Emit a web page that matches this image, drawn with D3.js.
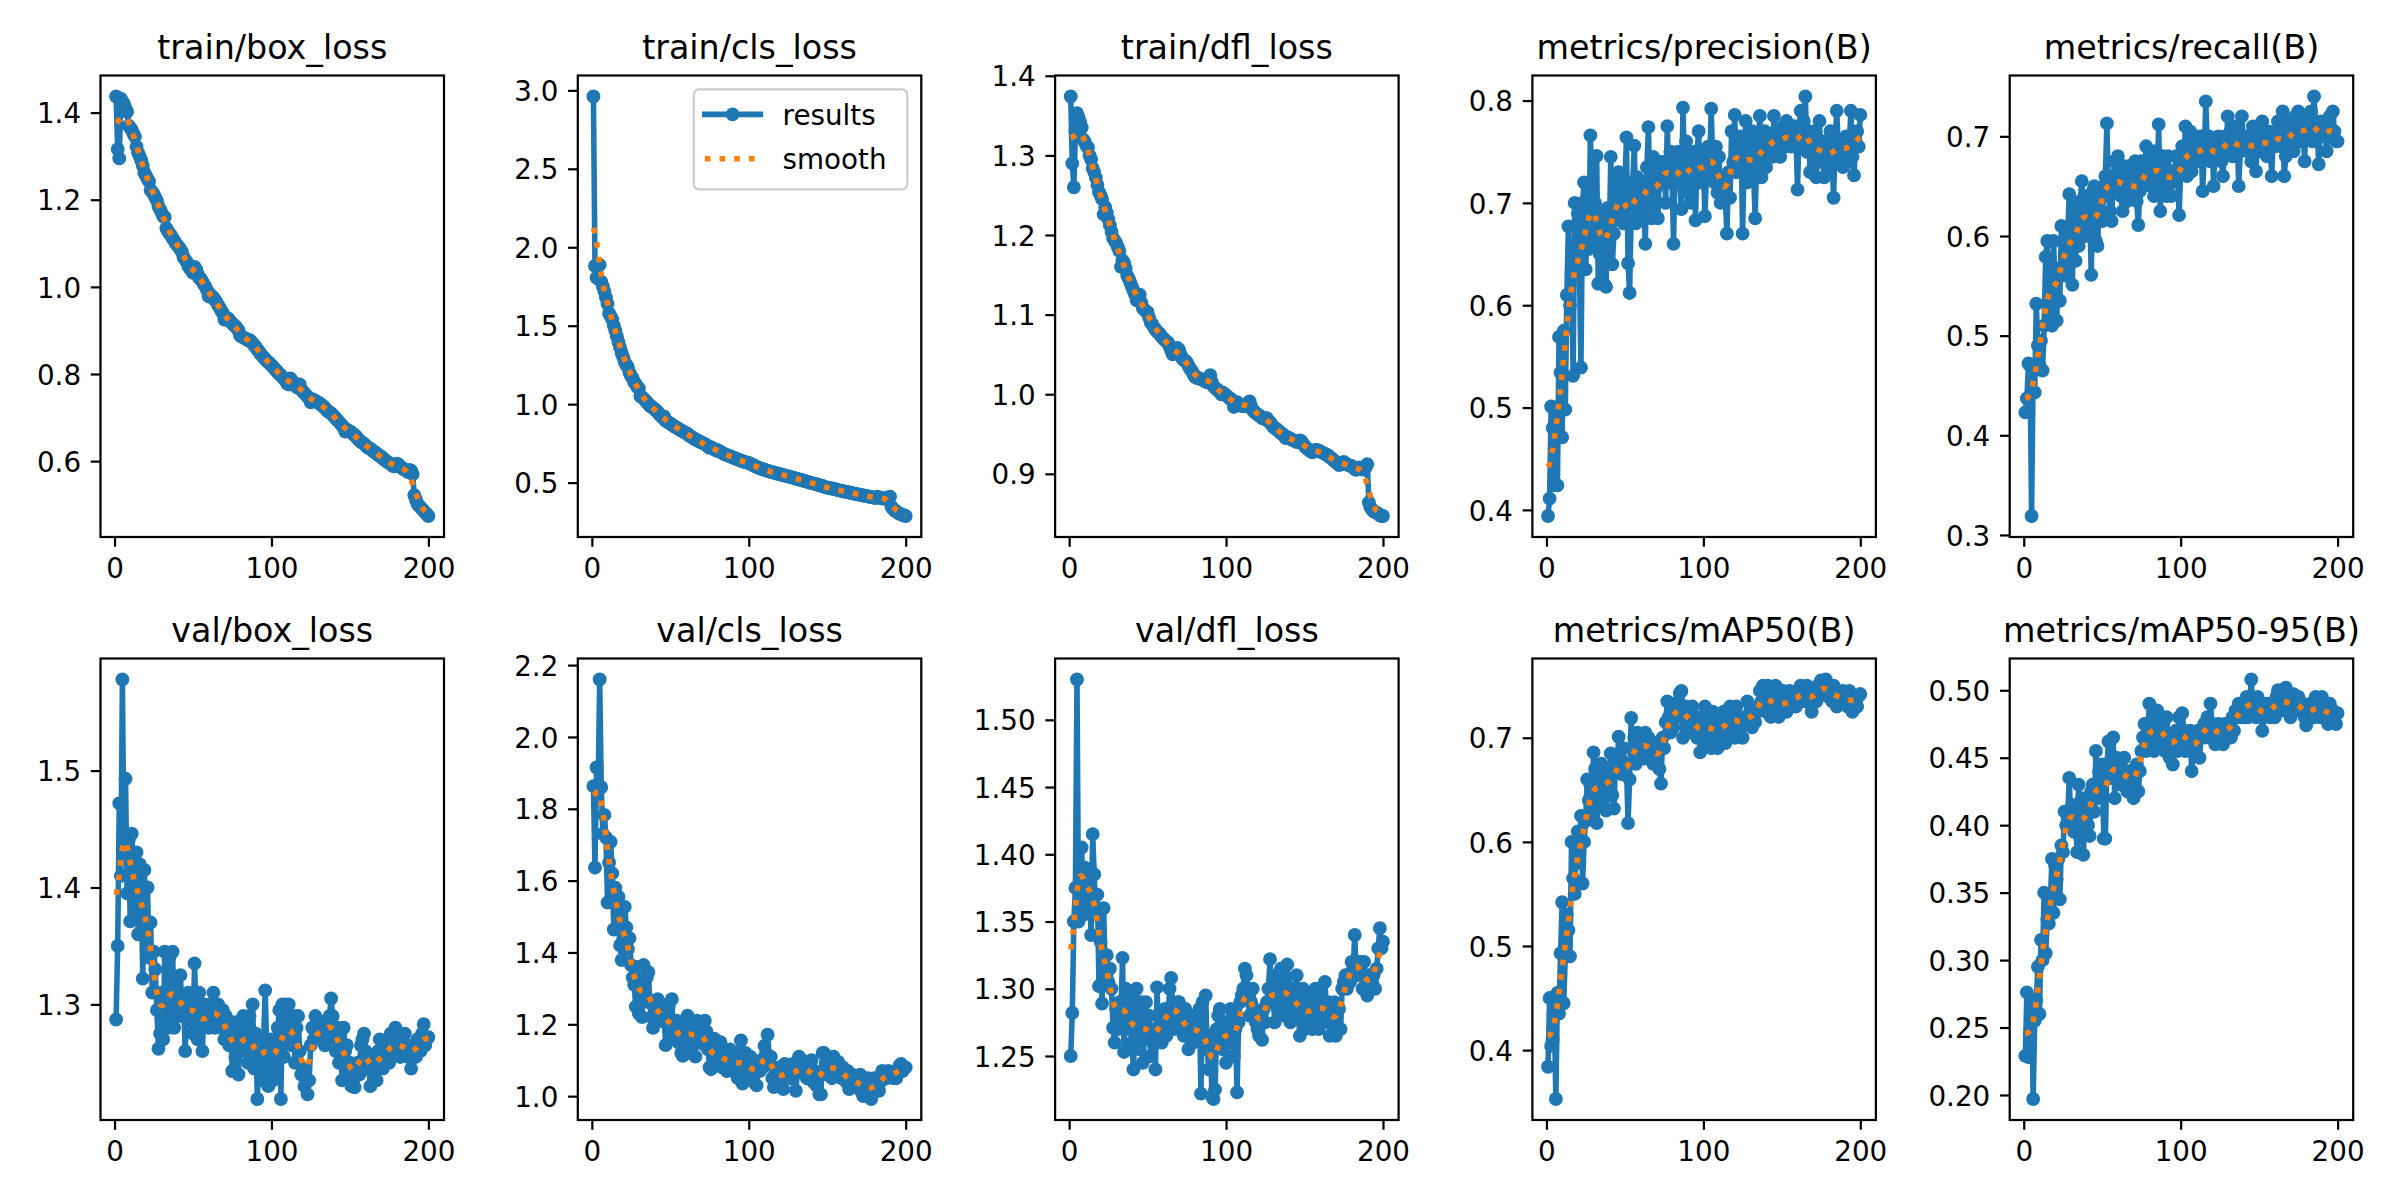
<!DOCTYPE html>
<html>
<head>
<meta charset="utf-8">
<script src="https://cdn.jsdelivr.net/npm/d3@7"></script>
<style>
html,body{margin:0;padding:0;background:#fff;}
svg{display:block;}
text{font-family:"DejaVu Sans",sans-serif;fill:#000;}
</style>
</head>
<body>
<script>
// ---------------- data ----------------
const titles = ["train/box_loss","train/cls_loss","train/dfl_loss","metrics/precision(B)","metrics/recall(B)",
                "val/box_loss","val/cls_loss","val/dfl_loss","metrics/mAP50(B)","metrics/mAP50-95(B)"];
const legendLabels = ["results","smooth"];
const xTicks = [0,100,200];

const trainBoxLoss = [
1.437,1.316,1.295,1.432,1.425,1.420,1.410,1.402,1.370,1.365,
1.360,1.352,1.345,1.322,1.308,1.300,1.290,1.278,1.262,1.255,
1.248,1.242,1.222,1.218,1.212,1.205,1.198,1.185,1.178,1.170,
1.162,1.160,1.135,1.128,1.122,1.118,1.112,1.106,1.100,1.096,
1.091,1.086,1.080,1.068,1.062,1.058,1.048,1.042,1.040,1.032,
1.046,1.040,1.030,1.020,1.018,1.012,1.005,1.000,0.992,0.978,
0.982,0.978,0.975,0.970,0.965,0.958,0.952,0.945,0.940,0.925,
0.930,0.928,0.925,0.920,0.916,0.912,0.910,0.905,0.900,0.888,
0.886,0.884,0.882,0.880,0.878,0.878,0.875,0.870,0.866,0.862,
0.856,0.852,0.846,0.842,0.838,0.834,0.830,0.827,0.824,0.820,
0.816,0.812,0.808,0.804,0.800,0.797,0.793,0.789,0.785,0.778,
0.776,0.790,0.785,0.780,0.775,0.770,0.768,0.776,0.764,0.760,
0.756,0.752,0.748,0.744,0.735,0.742,0.740,0.738,0.736,0.734,
0.732,0.728,0.726,0.722,0.718,0.714,0.712,0.710,0.706,0.702,
0.698,0.694,0.690,0.686,0.682,0.678,0.668,0.672,0.670,0.668,
0.666,0.662,0.660,0.656,0.652,0.648,0.644,0.642,0.640,0.636,
0.632,0.630,0.628,0.626,0.622,0.620,0.618,0.614,0.612,0.610,
0.606,0.604,0.600,0.598,0.596,0.594,0.590,0.588,0.590,0.594,
0.592,0.588,0.585,0.582,0.580,0.578,0.575,0.580,0.578,0.570,
0.522,0.512,0.502,0.498,0.494,0.490,0.486,0.482,0.478,0.474];

const trainClsLoss = [
2.961,1.881,1.807,1.800,1.888,1.780,1.750,1.720,1.680,1.640,
1.578,1.560,1.540,1.500,1.468,1.430,1.394,1.360,1.326,1.300,
1.268,1.250,1.235,1.200,1.180,1.165,1.140,1.128,1.110,1.100,
1.050,1.045,1.035,1.025,1.015,1.000,0.990,0.985,0.975,0.970,
0.958,0.950,0.935,0.925,0.915,0.922,0.894,0.890,0.882,0.876,
0.870,0.862,0.855,0.850,0.844,0.838,0.832,0.826,0.820,0.815,
0.810,0.800,0.795,0.788,0.780,0.775,0.770,0.765,0.760,0.755,
0.750,0.745,0.740,0.730,0.722,0.725,0.720,0.712,0.705,0.708,
0.702,0.695,0.690,0.685,0.680,0.676,0.672,0.668,0.664,0.660,
0.656,0.652,0.648,0.644,0.640,0.636,0.632,0.630,0.627,0.625,
0.620,0.615,0.610,0.604,0.600,0.596,0.592,0.588,0.585,0.582,
0.578,0.575,0.572,0.568,0.566,0.564,0.560,0.558,0.556,0.553,
0.550,0.548,0.545,0.542,0.540,0.537,0.535,0.532,0.528,0.526,
0.523,0.520,0.518,0.515,0.512,0.509,0.506,0.503,0.500,0.497,
0.495,0.492,0.490,0.486,0.484,0.480,0.478,0.474,0.470,0.468,
0.466,0.464,0.462,0.460,0.458,0.455,0.452,0.450,0.447,0.445,
0.443,0.441,0.439,0.437,0.435,0.433,0.430,0.428,0.426,0.424,
0.422,0.420,0.418,0.416,0.414,0.412,0.410,0.408,0.406,0.404,
0.402,0.410,0.405,0.403,0.400,0.398,0.396,0.404,0.402,0.410,
0.345,0.332,0.322,0.315,0.308,0.302,0.298,0.294,0.290,0.287];

const trainDflLoss = [
1.374,1.290,1.260,1.330,1.353,1.348,1.342,1.335,1.320,1.317,
1.312,1.310,1.300,1.295,1.284,1.279,1.272,1.263,1.254,1.250,
1.245,1.226,1.235,1.228,1.220,1.212,1.204,1.196,1.193,1.190,
1.185,1.180,1.160,1.168,1.165,1.158,1.149,1.145,1.140,1.135,
1.130,1.125,1.118,1.122,1.125,1.115,1.108,1.106,1.104,1.103,
1.096,1.090,1.088,1.084,1.081,1.079,1.077,1.075,1.072,1.070,
1.068,1.066,1.065,1.060,1.055,1.050,1.052,1.055,1.058,1.056,
1.050,1.045,1.043,1.042,1.040,1.036,1.032,1.030,1.026,1.022,
1.021,1.020,1.020,1.019,1.018,1.017,1.016,1.015,1.020,1.024,
1.015,1.010,1.008,1.006,1.005,1.003,1.000,1.002,1.000,0.999,
0.997,0.995,0.994,0.992,0.984,0.990,0.990,0.988,0.986,0.985,
0.985,0.985,0.987,0.989,0.991,0.985,0.980,0.978,0.976,0.975,
0.973,0.972,0.970,0.969,0.970,0.970,0.966,0.965,0.962,0.959,
0.958,0.956,0.955,0.953,0.951,0.950,0.948,0.945,0.946,0.945,
0.944,0.943,0.942,0.941,0.940,0.941,0.942,0.941,0.938,0.935,
0.933,0.931,0.930,0.928,0.927,0.929,0.930,0.930,0.929,0.928,
0.927,0.926,0.925,0.924,0.923,0.921,0.920,0.918,0.916,0.915,
0.913,0.911,0.912,0.914,0.915,0.913,0.912,0.911,0.910,0.910,
0.908,0.906,0.905,0.907,0.908,0.907,0.906,0.905,0.908,0.912,
0.864,0.858,0.855,0.853,0.852,0.851,0.850,0.848,0.847,0.847];

const precisionB = [
0.394,0.411,0.501,0.480,0.424,0.500,0.424,0.569,0.534,0.471,
0.575,0.498,0.610,0.677,0.600,0.630,0.531,0.700,0.660,0.690,
0.635,0.539,0.700,0.720,0.635,0.680,0.655,0.766,0.716,0.660,
0.700,0.746,0.621,0.650,0.670,0.690,0.620,0.618,0.695,0.660,
0.745,0.640,0.670,0.720,0.690,0.730,0.685,0.725,0.680,0.720,
0.764,0.641,0.612,0.690,0.720,0.756,0.680,0.725,0.700,0.690,
0.720,0.700,0.660,0.735,0.774,0.700,0.685,0.745,0.700,0.715,
0.685,0.730,0.740,0.720,0.740,0.700,0.775,0.720,0.750,0.730,
0.660,0.740,0.730,0.750,0.720,0.694,0.793,0.730,0.760,0.710,
0.745,0.700,0.725,0.750,0.683,0.750,0.770,0.720,0.750,0.740,
0.687,0.730,0.755,0.740,0.792,0.735,0.720,0.755,0.710,0.745,
0.700,0.715,0.720,0.705,0.670,0.730,0.705,0.770,0.740,0.786,
0.730,0.755,0.740,0.765,0.670,0.745,0.780,0.720,0.760,0.740,
0.770,0.730,0.685,0.745,0.760,0.785,0.725,0.750,0.770,0.735,
0.765,0.750,0.760,0.745,0.785,0.770,0.750,0.765,0.745,0.760,
0.775,0.755,0.780,0.760,0.770,0.755,0.760,0.775,0.765,0.713,
0.770,0.790,0.755,0.780,0.804,0.750,0.770,0.730,0.760,0.745,
0.770,0.725,0.755,0.780,0.740,0.760,0.725,0.750,0.760,0.735,
0.770,0.745,0.705,0.760,0.790,0.755,0.745,0.760,0.735,0.750,
0.765,0.740,0.755,0.790,0.745,0.727,0.760,0.770,0.755,0.786];

const recallB = [
0.423,0.437,0.472,0.470,0.319,0.465,0.443,0.532,0.490,0.470,
0.495,0.465,0.510,0.579,0.595,0.520,0.550,0.510,0.595,0.545,
0.515,0.560,0.535,0.610,0.570,0.595,0.560,0.600,0.642,0.585,
0.551,0.630,0.575,0.600,0.590,0.635,0.655,0.620,0.600,0.640,
0.610,0.630,0.561,0.645,0.650,0.595,0.590,0.625,0.640,0.615,
0.650,0.660,0.713,0.640,0.625,0.615,0.660,0.675,0.650,0.680,
0.660,0.640,0.625,0.670,0.655,0.635,0.670,0.645,0.640,0.660,
0.675,0.635,0.611,0.645,0.675,0.655,0.660,0.690,0.655,0.665,
0.650,0.680,0.640,0.685,0.655,0.712,0.625,0.665,0.680,0.650,
0.640,0.680,0.660,0.640,0.665,0.655,0.680,0.660,0.621,0.665,
0.690,0.670,0.710,0.660,0.680,0.705,0.665,0.690,0.675,0.700,
0.690,0.675,0.700,0.645,0.680,0.735,0.690,0.700,0.675,0.695,
0.650,0.695,0.680,0.700,0.690,0.675,0.660,0.700,0.690,0.720,
0.690,0.705,0.680,0.710,0.695,0.700,0.650,0.685,0.720,0.690,
0.695,0.700,0.685,0.690,0.675,0.710,0.695,0.665,0.700,0.685,
0.690,0.715,0.690,0.700,0.680,0.705,0.695,0.660,0.700,0.690,
0.705,0.715,0.700,0.690,0.725,0.660,0.680,0.710,0.695,0.715,
0.700,0.685,0.720,0.705,0.725,0.695,0.715,0.705,0.675,0.720,
0.705,0.710,0.725,0.695,0.740,0.710,0.705,0.672,0.715,0.700,
0.705,0.710,0.685,0.705,0.720,0.700,0.725,0.705,0.695,0.695];

const valBoxLoss = [
1.287,1.350,1.472,1.410,1.578,1.430,1.493,1.395,1.440,1.371,
1.446,1.410,1.380,1.430,1.360,1.420,1.400,1.322,1.415,1.370,
1.400,1.340,1.370,1.310,1.345,1.330,1.295,1.262,1.275,1.310,
1.270,1.345,1.290,1.280,1.340,1.300,1.345,1.280,1.320,1.290,
1.310,1.325,1.290,1.305,1.260,1.300,1.310,1.285,1.300,1.275,
1.335,1.290,1.270,1.310,1.280,1.260,1.300,1.285,1.295,1.280,
1.300,1.290,1.310,1.280,1.290,1.300,1.295,1.280,1.295,1.270,
1.290,1.280,1.265,1.285,1.243,1.270,1.255,1.285,1.240,1.275,
1.260,1.290,1.275,1.265,1.250,1.290,1.265,1.300,1.245,1.275,
1.219,1.260,1.250,1.235,1.270,1.312,1.260,1.230,1.250,1.270,
1.235,1.260,1.240,1.280,1.295,1.219,1.300,1.255,1.300,1.270,
1.300,1.280,1.265,1.290,1.250,1.280,1.290,1.260,1.240,1.245,
1.230,1.235,1.223,1.235,1.265,1.280,1.270,1.290,1.275,1.280,
1.270,1.285,1.275,1.265,1.280,1.270,1.290,1.305,1.290,1.275,
1.260,1.280,1.250,1.275,1.235,1.280,1.260,1.265,1.240,1.250,
1.230,1.235,1.229,1.245,1.250,1.240,1.265,1.270,1.275,1.260,
1.245,1.250,1.230,1.255,1.240,1.250,1.235,1.260,1.270,1.255,
1.245,1.260,1.255,1.265,1.250,1.275,1.260,1.270,1.280,1.265,
1.260,1.255,1.270,1.260,1.275,1.265,1.255,1.260,1.245,1.265,
1.260,1.255,1.270,1.265,1.260,1.275,1.283,1.265,1.270,1.272];

const valClsLoss = [
1.863,1.636,1.915,1.850,2.160,1.860,1.730,1.783,1.720,1.539,
1.650,1.708,1.620,1.464,1.580,1.530,1.555,1.420,1.379,1.440,
1.527,1.470,1.410,1.440,1.365,1.330,1.310,1.249,1.360,1.230,
1.300,1.220,1.365,1.280,1.330,1.345,1.260,1.220,1.190,1.265,
1.230,1.270,1.240,1.210,1.255,1.230,1.142,1.200,1.250,1.170,
1.270,1.160,1.195,1.210,1.150,1.180,1.120,1.112,1.210,1.160,
1.224,1.190,1.130,1.170,1.200,1.110,1.210,1.160,1.190,1.170,
1.145,1.210,1.180,1.130,1.080,1.075,1.120,1.160,1.100,1.130,
1.090,1.150,1.080,1.120,1.090,1.070,1.110,1.130,1.095,1.070,
1.100,1.120,1.050,1.090,1.155,1.035,1.100,1.120,1.075,1.060,
1.110,1.090,1.040,1.080,1.030,1.075,1.070,1.100,1.080,1.140,
1.120,1.171,1.100,1.110,1.050,1.025,1.070,1.050,1.080,1.035,
1.060,1.020,1.090,1.070,1.060,1.080,1.050,1.090,1.060,1.015,
1.070,1.110,1.080,1.100,1.065,1.090,1.050,1.080,1.060,1.100,
1.040,1.070,1.030,1.050,1.005,1.005,1.120,1.120,1.090,1.060,
1.100,1.070,1.050,1.110,1.080,1.060,1.095,1.070,1.050,1.080,
1.060,1.040,1.070,1.020,1.050,1.060,1.030,1.050,1.040,1.030,
1.060,1.010,1.000,1.040,1.020,1.050,1.000,0.992,1.030,1.050,
1.020,1.030,1.015,1.040,1.070,1.055,1.060,1.050,1.070,1.055,
1.060,1.050,1.065,1.050,1.070,1.085,1.090,1.070,1.080,1.080];

const valDflLoss = [
1.250,1.282,1.350,1.375,1.530,1.350,1.385,1.405,1.355,1.390,
1.360,1.385,1.370,1.340,1.415,1.385,1.355,1.370,1.302,1.335,
1.289,1.360,1.310,1.325,1.305,1.315,1.300,1.271,1.260,1.285,
1.270,1.290,1.280,1.323,1.253,1.300,1.285,1.270,1.295,1.260,
1.240,1.280,1.300,1.265,1.255,1.290,1.245,1.275,1.290,1.265,
1.280,1.250,1.260,1.270,1.240,1.301,1.265,1.280,1.260,1.270,
1.285,1.265,1.275,1.300,1.308,1.285,1.270,1.280,1.290,1.290,
1.280,1.275,1.265,1.285,1.265,1.255,1.280,1.270,1.260,1.275,
1.280,1.265,1.285,1.222,1.290,1.265,1.295,1.255,1.240,1.265,
1.220,1.218,1.225,1.270,1.280,1.285,1.260,1.255,1.270,1.245,
1.275,1.260,1.285,1.280,1.250,1.270,1.223,1.275,1.290,1.295,
1.300,1.315,1.310,1.295,1.280,1.290,1.300,1.285,1.275,1.270,
1.265,1.280,1.262,1.285,1.275,1.290,1.300,1.322,1.290,1.300,
1.275,1.310,1.285,1.295,1.315,1.290,1.280,1.305,1.318,1.300,
1.275,1.290,1.300,1.285,1.310,1.280,1.265,1.290,1.300,1.270,
1.285,1.275,1.295,1.280,1.270,1.290,1.300,1.285,1.270,1.300,
1.280,1.275,1.305,1.285,1.290,1.265,1.275,1.280,1.290,1.265,
1.270,1.285,1.270,1.300,1.305,1.310,1.300,1.310,1.305,1.320,
1.315,1.340,1.310,1.320,1.315,1.320,1.300,1.320,1.300,1.295,
1.310,1.300,1.305,1.310,1.300,1.315,1.330,1.345,1.330,1.335];

const mAP50B = [
0.384,0.450,0.404,0.410,0.440,0.353,0.455,0.435,0.493,0.542,
0.445,0.490,0.530,0.515,0.490,0.600,0.565,0.550,0.595,0.610,
0.580,0.625,0.560,0.600,0.620,0.660,0.640,0.655,0.625,0.686,
0.670,0.618,0.645,0.660,0.675,0.640,0.665,0.630,0.670,0.655,
0.685,0.645,0.632,0.675,0.670,0.701,0.680,0.665,0.690,0.665,
0.675,0.618,0.660,0.719,0.690,0.700,0.675,0.705,0.685,0.700,
0.690,0.680,0.705,0.695,0.700,0.685,0.690,0.675,0.695,0.680,
0.690,0.670,0.656,0.700,0.690,0.715,0.735,0.720,0.705,0.725,
0.710,0.730,0.720,0.735,0.743,0.745,0.700,0.720,0.730,0.705,
0.725,0.715,0.730,0.705,0.720,0.700,0.710,0.686,0.720,0.705,
0.730,0.695,0.715,0.720,0.690,0.725,0.700,0.715,0.690,0.705,
0.720,0.700,0.725,0.695,0.710,0.720,0.730,0.715,0.725,0.700,
0.730,0.715,0.720,0.710,0.700,0.715,0.720,0.735,0.715,0.725,
0.710,0.720,0.715,0.725,0.730,0.745,0.735,0.750,0.740,0.725,
0.750,0.735,0.720,0.745,0.725,0.750,0.730,0.720,0.735,0.725,
0.745,0.730,0.725,0.735,0.745,0.730,0.735,0.740,0.730,0.745,
0.735,0.750,0.740,0.745,0.735,0.750,0.740,0.735,0.725,0.745,
0.740,0.735,0.750,0.745,0.755,0.745,0.750,0.756,0.740,0.750,
0.745,0.735,0.750,0.740,0.730,0.745,0.735,0.740,0.745,0.735,
0.740,0.730,0.745,0.735,0.725,0.740,0.735,0.730,0.740,0.742];

const mAP5095B = [
0.229,0.276,0.228,0.245,0.270,0.197,0.255,0.270,0.295,0.260,
0.315,0.300,0.350,0.305,0.330,0.327,0.345,0.375,0.335,0.370,
0.360,0.375,0.345,0.385,0.380,0.410,0.400,0.405,0.435,0.400,
0.415,0.395,0.410,0.380,0.430,0.390,0.420,0.378,0.410,0.420,
0.400,0.392,0.425,0.430,0.410,0.455,0.420,0.440,0.425,0.445,
0.390,0.390,0.445,0.462,0.435,0.440,0.465,0.420,0.450,0.440,
0.445,0.430,0.440,0.450,0.435,0.425,0.440,0.435,0.430,0.420,
0.435,0.445,0.425,0.440,0.455,0.465,0.475,0.455,0.460,0.490,
0.465,0.480,0.455,0.470,0.485,0.460,0.480,0.465,0.475,0.455,
0.480,0.460,0.450,0.465,0.445,0.460,0.470,0.455,0.480,0.465,
0.483,0.470,0.455,0.465,0.460,0.470,0.440,0.455,0.465,0.460,
0.470,0.450,0.465,0.470,0.475,0.465,0.480,0.470,0.490,0.475,
0.465,0.460,0.470,0.475,0.465,0.470,0.460,0.475,0.465,0.470,
0.475,0.465,0.480,0.470,0.485,0.480,0.490,0.480,0.485,0.490,
0.480,0.495,0.480,0.490,0.508,0.485,0.490,0.480,0.495,0.485,
0.490,0.470,0.480,0.485,0.490,0.485,0.480,0.485,0.490,0.480,
0.495,0.500,0.490,0.485,0.495,0.490,0.502,0.485,0.495,0.480,
0.490,0.497,0.485,0.490,0.495,0.490,0.485,0.490,0.480,0.474,
0.485,0.480,0.490,0.485,0.480,0.495,0.490,0.485,0.480,0.495,
0.490,0.480,0.485,0.475,0.490,0.480,0.485,0.480,0.475,0.483];

const yTicksTrainBox = [0.6,0.8,1.0,1.2,1.4];
const yTicksTrainCls = [0.5,1.0,1.5,2.0,2.5,3.0];
const yTicksTrainDfl = [0.9,1.0,1.1,1.2,1.3,1.4];
const yTicksPrecision = [0.4,0.5,0.6,0.7,0.8];
const yTicksRecall = [0.3,0.4,0.5,0.6,0.7];
const yTicksValBox = [1.3,1.4,1.5];
const yTicksValCls = [1.0,1.2,1.4,1.6,1.8,2.0,2.2];
const yTicksValDfl = [1.25,1.30,1.35,1.40,1.45,1.50];
const yTicksMAP50 = [0.4,0.5,0.6,0.7];
const yTicksMAP5095 = [0.20,0.25,0.30,0.35,0.40,0.45,0.50];
const yTickDecimals = [1,1,1,1,1,1,1,2,1,2];

// ---------------- build ----------------
const epochs = d3.range(1, trainBoxLoss.length + 1);
const seriesList = [trainBoxLoss,trainClsLoss,trainDflLoss,precisionB,recallB,
                    valBoxLoss,valClsLoss,valDflLoss,mAP50B,mAP5095B];
const yTickList = [yTicksTrainBox,yTicksTrainCls,yTicksTrainDfl,yTicksPrecision,yTicksRecall,
                   yTicksValBox,yTicksValCls,yTicksValDfl,yTicksMAP50,yTicksMAP5095];

// scipy.ndimage.gaussian_filter1d(y, sigma=3), mode 'reflect'
function gaussianFilter1d(y, sigma){
  const r = Math.floor(4*sigma + 0.5);
  const w = d3.range(-r, r+1).map(k => Math.exp(-0.5*k*k/(sigma*sigma)));
  const s = d3.sum(w);
  const n = y.length;
  const idx = i => { while (i < 0 || i >= n) { if (i < 0) i = -i - 1; if (i >= n) i = 2*n - i - 1; } return i; };
  return y.map((_, i) => { let acc = 0; for (let k = -r; k <= r; k++) acc += w[k+r]*y[idx(i+k)]; return acc/s; });
}

const PX = 200/72;               // points -> pixels at 200 dpi
const W = 2400, H = 1200;
const left0 = 100.5, pitch = 477.3, pw = 343.5;
const rowTops = [75.5, 658.5], ph = 461.5;
const tickFont = 10*PX, titleFont = 12*PX;
const blue = "#1f77b4", orange = "#ff7f0e";

const svg = d3.select("body").append("svg").attr("width", W).attr("height", H)
  .attr("viewBox", `0 0 ${W} ${H}`);
svg.append("rect").attr("width", W).attr("height", H).attr("fill", "#fff");

const xDomain = [epochs[0] - 0.05*(epochs[epochs.length-1]-epochs[0]),
                 epochs[epochs.length-1] + 0.05*(epochs[epochs.length-1]-epochs[0])];

seriesList.forEach((ys, i) => {
  const col = i % 5, row = Math.floor(i / 5);
  const g = svg.append("g").attr("transform", `translate(${left0 + col*pitch},${rowTops[row]})`);
  const [mn, mx] = d3.extent(ys);
  const pad = 0.05*(mx - mn);
  const x = d3.scaleLinear().domain(xDomain).range([0, pw]);
  const y = d3.scaleLinear().domain([mn - pad, mx + pad]).range([ph, 0]);
  const pts = epochs.map((e, j) => [e, ys[j]]);
  const sm = gaussianFilter1d(ys, 3);
  const smPts = epochs.map((e, j) => [e, sm[j]]);
  const line = d3.line().x(d => x(d[0])).y(d => y(d[1]));

  // results line + markers
  g.append("path").attr("d", line(pts)).attr("fill", "none").attr("stroke", blue)
    .attr("stroke-width", 2*PX).attr("stroke-linejoin", "round").attr("stroke-linecap", "square");
  g.append("g").selectAll("circle").data(pts).join("circle")
    .attr("cx", d => x(d[0])).attr("cy", d => y(d[1])).attr("r", 2*PX)
    .attr("fill", blue).attr("stroke", blue).attr("stroke-width", 1*PX);
  // smooth line
  g.append("path").attr("d", line(smPts)).attr("fill", "none").attr("stroke", orange)
    .attr("stroke-width", 2*PX).attr("stroke-dasharray", `${2*PX},${3.3*PX}`)
    .attr("stroke-linecap", "butt").attr("stroke-linejoin", "round");

  // axes
  const xAxis = d3.axisBottom(x).tickValues(xTicks).tickSize(3.5*PX).tickPadding(3.5*PX)
    .tickFormat(d3.format("d"));
  const yt = yTickList[i].filter(v => v >= y.domain()[0] - 1e-9 && v <= y.domain()[1] + 1e-9);
  const yAxis = d3.axisLeft(y).tickValues(yt).tickSize(3.5*PX).tickPadding(3.5*PX)
    .tickFormat(d3.format(`.${yTickDecimals[i]}f`));
  const gx = g.append("g").attr("transform", `translate(0,${ph})`).call(xAxis);
  const gy = g.append("g").call(yAxis);
  [gx, gy].forEach(a => {
    a.select(".domain").remove();
    a.selectAll(".tick line").attr("stroke", "#000").attr("stroke-width", 0.8*PX);
    a.selectAll(".tick text").attr("font-size", tickFont).attr("font-family", "DejaVu Sans").attr("fill", "#000");
  });
  gx.selectAll(".tick text").attr("dy", null).attr("y", 7*PX + 0.76*tickFont);
  gy.selectAll(".tick text").attr("dy", null).attr("y", 0.365*tickFont);

  // frame (spines)
  g.append("rect").attr("x", 0).attr("y", 0).attr("width", pw).attr("height", ph)
    .attr("fill", "none").attr("stroke", "#000").attr("stroke-width", 0.8*PX);

  // title
  g.append("text").attr("x", pw/2).attr("y", -6*PX).attr("text-anchor", "middle")
    .attr("font-size", titleFont).text(titles[i]);

  // legend on the second panel
  if (i === 1) {
    const fs = tickFont;
    const lg = g.append("g");
    const box = lg.append("rect").attr("fill", "#fff").attr("fill-opacity", 0.8)
      .attr("stroke", "#cccccc").attr("stroke-width", 0.8*PX).attr("rx", 0.2*fs).attr("ry", 0.2*fs);
    const texts = legendLabels.map((t, k) => lg.append("text").attr("font-size", fs).text(t));
    const tw = d3.max(texts, t => t.node().getComputedTextLength());
    const bp = 0.4*fs, hl = 2.0*fs, htp = 0.8*fs, bap = 0.5*fs;
    const boxW = bp + hl + htp + tw + bp + 0.35*fs;
    const boxH = 3.6*fs;
    const bx = pw - bap - boxW, by = bap;
    box.attr("x", bx).attr("y", by).attr("width", boxW).attr("height", boxH);
    const rowsY = [by + 0.9*fs, by + 2.5*fs];
    const hx0 = bx + bp, hx1 = hx0 + hl;
    lg.append("line").attr("x1", hx0).attr("x2", hx1).attr("y1", rowsY[0]).attr("y2", rowsY[0])
      .attr("stroke", blue).attr("stroke-width", 2*PX).attr("stroke-linecap", "square");
    lg.append("circle").attr("cx", (hx0+hx1)/2).attr("cy", rowsY[0]).attr("r", 2*PX)
      .attr("fill", blue).attr("stroke", blue).attr("stroke-width", 1*PX);
    lg.append("line").attr("x1", hx0).attr("x2", hx1).attr("y1", rowsY[1]).attr("y2", rowsY[1])
      .attr("stroke", orange).attr("stroke-width", 2*PX).attr("stroke-dasharray", `${2*PX},${3.3*PX}`);
    texts.forEach((t, k) => t.attr("x", hx1 + htp).attr("y", rowsY[k] + 0.38*fs));
  }
});
</script>
</body>
</html>
